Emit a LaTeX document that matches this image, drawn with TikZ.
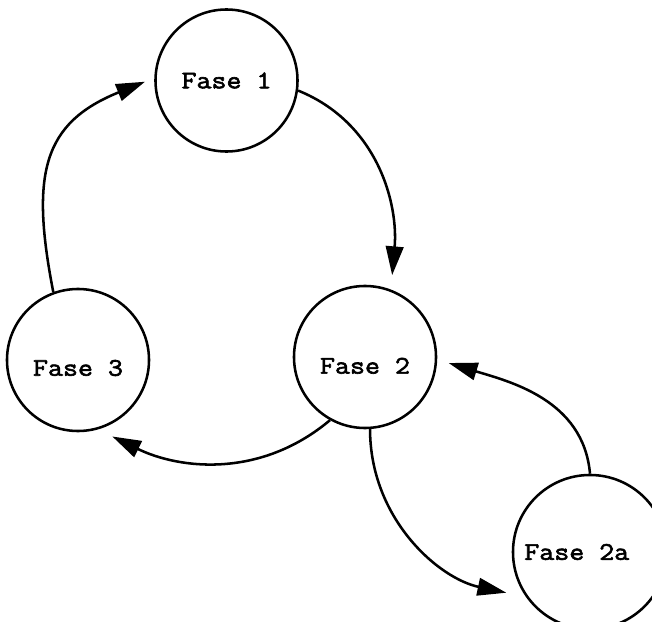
\documentclass[tikz,border=0pt]{standalone}
\usepackage{fontspec}
\newfontfamily\fasefont{Latin Modern Mono}[FakeStretch=1.15, FakeBold=2.5]
\usetikzlibrary{arrows.meta}

\begin{document}
\begin{tikzpicture}[
        x=0.025cm, y=0.025cm,
        font=\fasefont\fontsize{18}{21}\selectfont,
        fase/.style={circle, draw, line width=1.8pt, minimum size=3.55cm,
                     inner sep=0pt},
        flow/.style={line width=1.8pt,
                     -{Triangle[length=0.72cm, width=0.44cm]}}
    ]
    \useasboundingbox (0,0) rectangle (652,621);

    % phases
    \node[fase, label={center:Fase 1}] (f1) at (226.5,540.5) {};
    \node[fase, label={[yshift=-0.22cm]center:Fase 2}] (f2) at (365,264) {};
    \node[fase, label={[yshift=-0.2cm]center:Fase 3}] (f3) at (78,261) {};
    \node[fase, minimum size=3.85cm,
          label={[xshift=-0.33cm]center:Fase 2a}] (f2a) at (590,69) {};

    % main cycle
    \draw[flow, shorten >=0.36cm] (f1.-8) to[out=-22, in=85] (f2.69);
    \draw[flow, shorten >=0.4cm] (f2.241) to[out=220, in=-26] (f3.-74);
    \draw[flow, shorten >=0.25cm] (f3.110) to[out=101, in=202, looseness=1.3] (f1.178);

    % side loop
    \draw[flow, shorten >=0.5cm] (f2.-86) to[out=-90, in=168] (f2a.215);
    \draw[flow, shorten >=0.3cm] (f2a.90) to[out=95, in=-17] (f2.-2);
\end{tikzpicture}
\end{document}
